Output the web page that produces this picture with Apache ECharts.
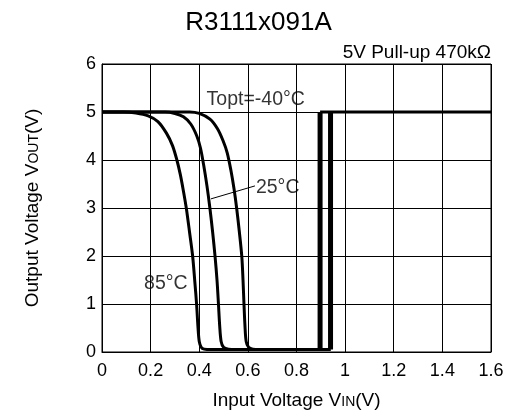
<!DOCTYPE html>
<html>
<head>
<meta charset="utf-8">
<script src="https://cdn.jsdelivr.net/npm/echarts@6/dist/echarts.min.js"></script>
<style>html,body{margin:0;padding:0;background:#fff}#c{width:517px;height:416px}</style>
</head>
<body>
<div id="c"></div>
<script>
// Data
const xTicks = [0, 0.2, 0.4, 0.6, 0.8, 1, 1.2, 1.4, 1.6];
const yTicks = [0, 1, 2, 3, 4, 5, 6];
const curve85 = [[0,5],[0.09,5],[0.14,4.98],[0.19,4.92],[0.23,4.8],[0.265,4.56],[0.29,4.3],[0.308,4.0],[0.322,3.7],[0.335,3.35],[0.347,2.99],[0.36,2.5],[0.373,1.99],[0.382,1.45],[0.389,1.0],[0.395,0.5],[0.4,0.22],[0.408,0.1],[0.42,0.06],[0.45,0.05],[0.897,0.05]];
const curve25 = [[0,5],[0.26,5],[0.3,4.97],[0.335,4.9],[0.365,4.75],[0.39,4.5],[0.405,4.25],[0.418,3.9],[0.432,3.45],[0.444,2.99],[0.455,2.5],[0.465,1.99],[0.473,1.5],[0.479,1.0],[0.484,0.55],[0.49,0.22],[0.5,0.1],[0.52,0.06],[0.55,0.05],[0.94,0.05]];
const curveM40 = [[0,5],[0.36,5],[0.4,4.97],[0.444,4.85],[0.475,4.65],[0.498,4.4],[0.515,4.15],[0.53,3.79],[0.543,3.4],[0.554,2.99],[0.565,2.5],[0.575,1.99],[0.58,1.5],[0.584,1.0],[0.588,0.55],[0.593,0.22],[0.603,0.1],[0.62,0.06],[0.65,0.05],[0.94,0.05]];
const rise85 = [[0.897,0.05],[0.897,5]];
const riseOther = [[0.94,0.05],[0.94,5]];
const highLevel = [[0.897,5],[1.6,5]];
const leader25 = [[0.448,3.19],[0.629,3.46]];
const annotations = [
  {name: 'Topt=-40°C', value: [0.43, 5.25]},
  {name: '25°C', value: [0.633, 3.42]},
  {name: '85°C', value: [0.173, 1.42]}
];
const titleText = 'R3111x091A';
const subText = '5V Pull-up 470kΩ';

const FONT = 'Liberation Sans, Arial, sans-serif';
const chart = echarts.init(document.getElementById('c'));
const lineBase = {type: 'line', showSymbol: false, symbol: 'none', silent: true, clip: true, animation: false};
chart.setOption({
  animation: false,
  backgroundColor: '#fff',
  title: [
    {text: titleText, left: 'center', top: 5, textStyle: {fontFamily: FONT, fontSize: 26, fontWeight: 'normal', color: '#000'}},
    {text: subText, right: 21, top: 38, textStyle: {fontFamily: FONT, fontSize: 19, fontWeight: 'normal', color: '#000'}}
  ],
  grid: {left: 102, right: 26, top: 64, bottom: 64, show: true, borderColor: '#000', borderWidth: 1, backgroundColor: 'transparent'},
  xAxis: {
    type: 'value', min: xTicks[0], max: xTicks[xTicks.length-1], interval: 0.2,
    name: 'Input Voltage V{s|IN}(V)', nameLocation: 'middle', nameGap: 39,
    nameTextStyle: {fontFamily: FONT, fontSize: 19, color: '#000', rich: {s: {fontFamily: FONT, fontSize: 14, color: '#000', padding: [3,0,0,0]}}},
    axisLine: {show: true, lineStyle: {color: '#000', width: 1}},
    axisTick: {show: false},
    splitLine: {show: true, lineStyle: {color: '#000', width: 1}},
    axisLabel: {fontFamily: FONT, fontSize: 18, color: '#000', margin: 10}
  },
  yAxis: {
    type: 'value', min: yTicks[0], max: yTicks[yTicks.length-1], interval: 1,
    name: 'Output Voltage V{s|OUT}(V)', nameLocation: 'middle', nameGap: 60,
    nameTextStyle: {fontFamily: FONT, fontSize: 19, color: '#000', rich: {s: {fontFamily: FONT, fontSize: 14, color: '#000', padding: [3,0,0,0]}}},
    axisLine: {show: true, lineStyle: {color: '#000', width: 1}},
    axisTick: {show: false},
    splitLine: {show: true, lineStyle: {color: '#000', width: 1}},
    axisLabel: {fontFamily: FONT, fontSize: 18, color: '#000', margin: 6}
  },
  series: [
    Object.assign({}, lineBase, {name: '85°C', data: curve85, smooth: 0.3, lineStyle: {color: '#000', width: 3}}),
    Object.assign({}, lineBase, {name: '25°C', data: curve25, smooth: 0.3, lineStyle: {color: '#000', width: 3}}),
    Object.assign({}, lineBase, {name: '-40°C', data: curveM40, smooth: 0.3, lineStyle: {color: '#000', width: 3}}),
    Object.assign({}, lineBase, {name: 'rise85', data: rise85, lineStyle: {color: '#000', width: 5}}),
    Object.assign({}, lineBase, {name: 'rise', data: riseOther, lineStyle: {color: '#000', width: 5}}),
    Object.assign({}, lineBase, {name: 'high', data: highLevel, lineStyle: {color: '#000', width: 3}}),
    Object.assign({}, lineBase, {name: 'leader', data: leader25, lineStyle: {color: '#000', width: 1}}),
    {
      type: 'scatter', name: 'labels', data: annotations, symbolSize: 0, silent: true, animation: false,
      label: {show: true, formatter: '{b}', position: 'right', distance: 0, fontFamily: FONT, fontSize: 19.5, color: '#000'}
    }
  ]
});
</script>
</body>
</html>
